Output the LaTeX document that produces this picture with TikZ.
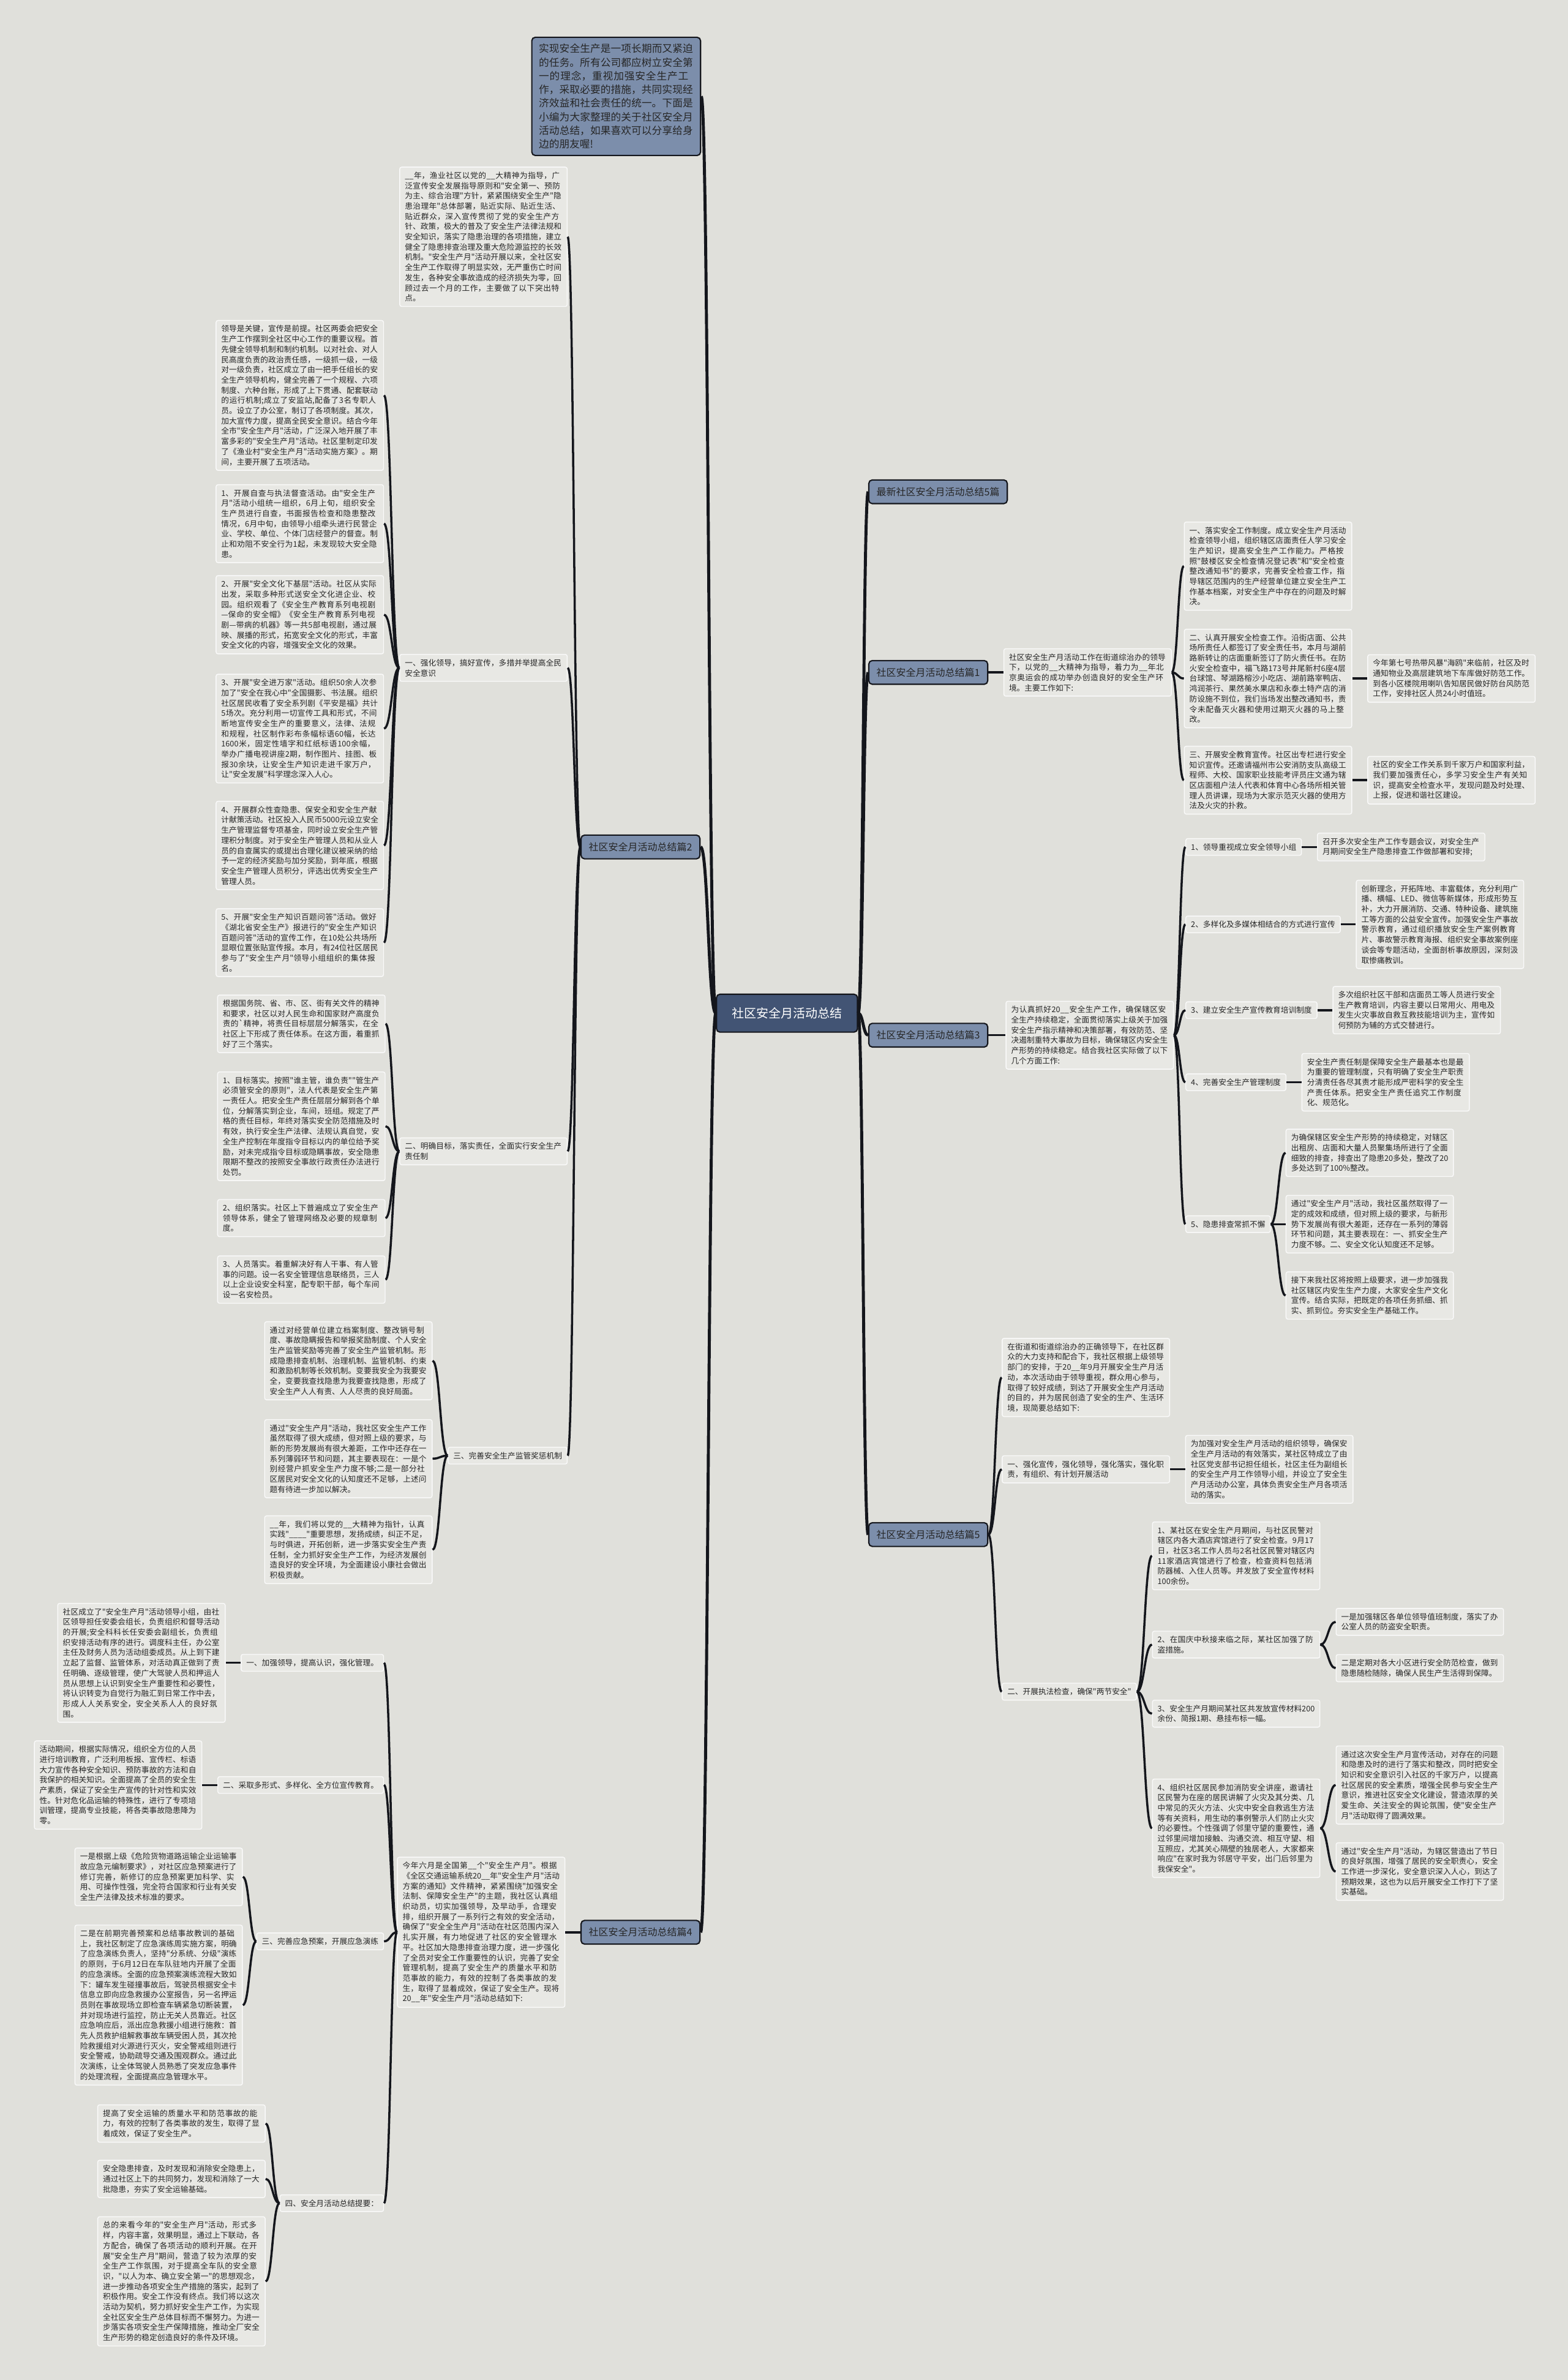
\documentclass[tikz,border=0pt]{standalone}
\usepackage{fontspec}
\newfontfamily\zhfont{Noto Sans CJK SC}
\XeTeXlinebreaklocale "zh"
\XeTeXlinebreakskip=0pt plus 1pt
\usetikzlibrary{calc,positioning}
\definecolor{mapbg}{RGB}{224,224,219}
\definecolor{mapbox}{RGB}{232,232,228}
\definecolor{mapedge}{RGB}{250,250,250}
\definecolor{mapink}{RGB}{38,38,38}
\definecolor{mapslate}{RGB}{124,142,171}
\definecolor{mapdark}{RGB}{66,84,116}
\definecolor{mapline}{RGB}{20,22,28}
\newcommand\mapfont{\zhfont\fontsize{3.61pt}{4.75pt}\selectfont}

\begin{document}
\begin{tikzpicture}[x=0.02478cm,y=-0.02478cm,
    boxbase/.style={rectangle,rounded corners=0.9pt,fill=mapbox,draw=mapedge,line width=0.4pt,
                    inner xsep=2.4pt,inner ysep=2.2pt,align=left,text=mapink,font=\mapfont},
    parabox/.style={boxbase,text width=73pt},
    headbox/.style={boxbase},
    branchbox/.style={rectangle,rounded corners=1.6pt,fill=mapslate,draw=mapline,line width=0.6pt,
                    inner xsep=3.6pt,minimum height=11pt,text=mapink,font=\zhfont\fontsize{4.55pt}{5.5pt}\selectfont},
    introbox/.style={rectangle,rounded corners=1.6pt,fill=mapslate,draw=mapline,line width=0.6pt,
                    inner xsep=3.3pt,inner ysep=3pt,text width=71.8pt,align=left,text=mapink,
                    font=\zhfont\fontsize{4.75pt}{6.35pt}\selectfont},
    rootbox/.style={rectangle,rounded corners=1.6pt,fill=mapdark,draw=mapline,line width=0.6pt,
                    minimum width=65.5pt,minimum height=17.6pt,text=white,
                    font=\zhfont\fontsize{5.7pt}{6.8pt}\selectfont},
    maplink/.style={draw=mapline,line width=1pt,
                    to path={let \p1=(\tikztostart),\p2=(\tikztotarget) in
                             .. controls ({0.5*\x1+0.5*\x2},\y1) and ({0.5*\x1+0.5*\x2},\y2) .. (\tikztotarget)}},
    rootlink/.style={maplink,line width=1.4pt}]

    \useasboundingbox (0,0) rectangle (1033,1568);
    \fill[mapbg] (0,0) rectangle (1033,1568);

    \node[rootbox] (root) at (518.5,667.5) {社区安全月活动总结};

    \node[introbox,anchor=east] (intro) at (462,63.5) {实现安全生产是一项长期而又紧迫的任务。所有公司都应树立安全第一的理念，重视加强安全生产工作，采取必要的措施，共同实现经济效益和社会责任的统一。下面是小编为大家整理的关于社区安全月活动总结，如果喜欢可以分享给身边的朋友喔!};

    \node[branchbox,anchor=west] (b0) at (572,324)  {最新社区安全月活动总结5篇};
    \node[branchbox,anchor=west] (b1) at (572,443)  {社区安全月活动总结篇1};
    \node[branchbox] (b2) at (422,558)              {社区安全月活动总结篇2};
    \node[branchbox,anchor=west] (b3) at (572,682)  {社区安全月活动总结篇3};
    \node[branchbox] (b4) at (422,1273)             {社区安全月活动总结篇4};
    \node[branchbox,anchor=west] (b5) at (572,1011) {社区安全月活动总结篇5};

    % 篇2
    \node[parabox,anchor=east] (p2a) at (374,156) {\_\_年，渔业社区以党的\_\_大精神为指导，广泛宣传安全发展指导原则和"安全第一、预防为主、综合治理"方针，紧紧围绕安全生产"隐患治理年"总体部署，贴近实际、贴近生活、贴近群众，深入宣传贯彻了党的安全生产方针、政策，极大的普及了安全生产法律法规和安全知识，落实了隐患治理的各项措施，建立健全了隐患排查治理及重大危险源监控的长效机制。"安全生产月"活动开展以来，全社区安全生产工作取得了明显实效，无严重伤亡时间发生，各种安全事故造成的经济损失为零，回顾过去一个月的工作，主要做了以下突出特点。};
    \node[parabox,anchor=east] (p2b) at (374,440)   {一、强化领导，搞好宣传，多措并举提高全民安全意识};
    \node[parabox,anchor=east] (p2c) at (374,758.5) {二、明确目标，落实责任，全面实行安全生产责任制};
    \node[headbox,anchor=east] (p2d) at (374,959)   {三、完善安全生产监管奖惩机制};

    \node[parabox,anchor=east] (p2b1) at (253,260.5) {领导是关键，宣传是前提。社区两委会把安全生产工作摆到全社区中心工作的重要议程。首先健全领导机制和制约机制。以对社会、对人民高度负责的政治责任感，一级抓一级，一级对一级负责，社区成立了由一把手任组长的安全生产领导机构，健全完善了一个规程、六项制度、六种台账，形成了上下贯通、配套联动的运行机制;成立了安监站,配备了3名专职人员。设立了办公室，制订了各项制度。其次，加大宣传力度，提高全民安全意识。结合今年全市"安全生产月"活动，广泛深入地开展了丰富多彩的"安全生产月"活动。社区里制定印发了《渔业村"安全生产月"活动实施方案》。期间，主要开展了五项活动。};
    \node[parabox,anchor=east] (p2b2) at (253,345) {1、开展自查与执法督查活动。由"安全生产月"活动小组统一组织，6月上旬，组织安全生产员进行自查，书面报告检查和隐患整改情况，6月中旬，由领导小组牵头进行民营企业、学校、单位、个体门店经营户的督查。制止和劝阻不安全行为1起，未发现较大安全隐患。};
    \node[parabox,anchor=east] (p2b3) at (253,405) {2、开展"安全文化下基层"活动。社区从实际出发，采取多种形式送安全文化进企业、校园。组织观看了《安全生产教育系列电视剧—保命的安全帽》《安全生产教育系列电视剧—带病的机器》等一共5部电视剧，通过展映、展播的形式，拓宽安全文化的形式，丰富安全文化的内容，增强安全文化的效果。};
    \node[parabox,anchor=east] (p2b4) at (253,480) {3、开展"安全进万家"活动。组织50余人次参加了"安全在我心中"全国摄影、书法展。组织社区居民收看了安全系列剧《平安是福》共计5场次。充分利用一切宣传工具和形式，不间断地宣传安全生产的重要意义，法律、法规和规程，社区制作彩布条幅标语60幅，长达1600米，固定性墙字和红纸标语100余幅，举办广播电视讲座2期，制作图片、挂图、板报30余块，让安全生产知识走进千家万户，让"安全发展"科学理念深入人心。};
    \node[parabox,anchor=east] (p2b5) at (253,557) {4、开展群众性查隐患、保安全和安全生产献计献策活动。社区投入人民币5000元设立安全生产管理监督专项基金，同时设立安全生产管理积分制度。对于安全生产管理人员和从业人员的自查属实的或提出合理化建议被采纳的给予一定的经济奖励与加分奖励，到年底，根据安全生产管理人员积分，评选出优秀安全生产管理人员。};
    \node[parabox,anchor=east] (p2b6) at (253,621) {5、开展"安全生产知识百题问答"活动。做好《湖北省安全生产》报进行的"安全生产知识百题问答"活动的宣传工作，在10处公共场所显眼位置张贴宣传报。本月，有24位社区居民参与了"安全生产月"领导小组组织的集体报名。};

    \node[parabox,anchor=east] (p2c1) at (254,674.5) {根据国务院、省、市、区、街有关文件的精神和要求，社区以对人民生命和国家财产高度负责的\symbol{96}精神，将责任目标层层分解落实，在全社区上下形成了责任体系。在这方面，着重抓好了三个落实。};
    \node[parabox,anchor=east] (p2c2) at (254,742) {1、目标落实。按照"谁主管，谁负责""管生产必须管安全的原则"，法人代表是安全生产第一责任人。把安全生产责任层层分解到各个单位，分解落实到企业，车间，班组。规定了严格的责任目标，年终对落实安全防范措施及时有效，执行安全生产法律、法规认真自觉，安全生产控制在年度指令目标以内的单位给予奖励，对未完成指令目标或隐瞒事故，安全隐患限期不整改的按照安全事故行政责任办法进行处罚。};
    \node[parabox,anchor=east] (p2c3) at (254,802.5) {2、组织落实。社区上下普遍成立了安全生产领导体系，健全了管理网络及必要的规章制度。};
    \node[parabox,anchor=east] (p2c4) at (254,843) {3、人员落实。着重解决好有人干事、有人管事的问题。设一名安全管理信息联络员，三人以上企业设安全科室，配专职干部，每个车间设一名安检员。};

    \node[parabox,anchor=east] (p2d1) at (285,896.5) {通过对经营单位建立档案制度、整改销号制度、事故隐瞒报告和举报奖励制度、个人安全生产监管奖励等完善了安全生产监管机制。形成隐患排查机制、治理机制、监管机制、约束和激励机制等长效机制。变要我安全为我要安全，变要我查找隐患为我要查找隐患，形成了安全生产人人有责、人人尽责的良好局面。};
    \node[parabox,anchor=east] (p2d2) at (285,961) {通过"安全生产月"活动，我社区安全生产工作虽然取得了很大成绩，但对照上级的要求，与新的形势发展尚有很大差距，工作中还存在一系列薄弱环节和问题，其主要表现在：一是个别经营户抓安全生产力度不够;二是一部分社区居民对安全文化的认知度还不足够，上述问题有待进一步加以解决。};
    \node[parabox,anchor=east] (p2d3) at (285,1021) {\_\_年，我们将以党的\_\_大精神为指针，认真实践"\_\_\_\_"重要思想，发扬成绩，纠正不足，与时俱进，开拓创新，进一步落实安全生产责任制，全力抓好安全生产工作，为经济发展创造良好的安全环境，为全面建设小康社会做出积极贡献。};

    % 篇4
    \node[parabox,left=7pt of b4] (p4) {今年六月是全国第\_\_个"安全生产月"。根据《全区交通运输系统20\_\_年"安全生产月"活动方案的通知》文件精神，紧紧围绕"加强安全法制、保障安全生产"的主题，我社区认真组织动员，切实加强领导，及早动手，合理安排，组织开展了一系列行之有效的安全活动，确保了"安全全生产月"活动在社区范围内深入扎实开展，有力地促进了社区的安全管理水平。社区加大隐患排查治理力度，进一步强化了全员对安全工作重要性的认识，完善了安全管理机制，提高了安全生产的质量水平和防范事故的能力，有效的控制了各类事故的发生，取得了显着成效，保证了安全生产。现将20\_\_年"安全生产月"活动总结如下:};
    \node[headbox,anchor=east] (p4a) at (253,1095.5) {一、加强领导，提高认识，强化管理。};
    \node[headbox,anchor=east] (p4b) at (253,1176)   {二、采取多形式、多样化、全方位宣传教育。};
    \node[headbox,anchor=east] (p4c) at (253,1279)   {三、完善应急预案，开展应急演练};
    \node[headbox,anchor=east] (p4d) at (253,1451.5) {四、安全月活动总结提要：};

    \node[parabox,left=7pt of p4a] (p4a1) {社区成立了"安全生产月"活动领导小组，由社区领导担任安委会组长，负责组织和督导活动的开展;安全科科长任安委会副组长，负责组织安排活动有序的进行。调度科主任，办公室主任及财务人员为活动组委成员。从上到下建立起了监督、监管体系，对活动真正做到了责任明确、逐级管理，使广大驾驶人员和押运人员从思想上认识到安全生产重要性和必要性，将认识转变为自觉行为融汇到日常工作中去，形成人人关系安全，安全关系人人的良好氛围。};
    \node[parabox,left=7pt of p4b] (p4b1) {活动期间，根据实际情况，组织全方位的人员进行培训教育，广泛利用板报、宣传栏、标语大力宣传各种安全知识、预防事故的方法和自我保护的相关知识。全面提高了全员的安全生产素质，保证了安全生产宣传的针对性和实效性。针对危化品运输的特殊性，进行了专项培训管理，提高专业技能，将各类事故隐患降为零。};
    \node[parabox,anchor=east] (p4c1) at (160,1236.5) {一是根据上级《危险货物道路运输企业运输事故应急元编制要求》，对社区应急预案进行了修订完善，新修订的应急预案更加科学、实用、可操作性强，完全符合国家和行业有关安全生产法律及技术标准的要求。};
    \node[parabox,anchor=east] (p4c2) at (160,1321) {二是在前期完善预案和总结事故教训的基础上，我社区制定了应急演练周实施方案，明确了应急演练负责人，坚持"分系统、分级"演练的原则，于6月12日在车队驻地内开展了全面的应急演练。全面的应急预案演练流程大致如下：罐车发生碰撞事故后，驾驶员根据安全卡信息立即向应急救援办公室报告，另一名押运员则在事故现场立即检查车辆紧急切断装置，并对现场进行监控，防止无关人员靠近。社区应急响应后，派出应急救援小组进行施救：首先人员救护组解救事故车辆受困人员，其次抢险救援组对火源进行灭火，安全警戒组则进行安全警戒，协助疏导交通及围观群众。通过此次演练，让全体驾驶人员熟悉了突发应急事件的处理流程，全面提高应急管理水平。};
    \node[parabox,anchor=east] (p4d1) at (175,1399) {提高了安全运输的质量水平和防范事故的能力，有效的控制了各类事故的发生，取得了显着成效，保证了安全生产。};
    \node[parabox,anchor=east] (p4d2) at (175,1435.5) {安全隐患排查，及时发现和消除安全隐患上，通过社区上下的共同努力，发现和消除了一大批隐患，夯实了安全运输基础。};
    \node[parabox,anchor=east] (p4d3) at (175,1503) {总的来看今年的"安全生产月"活动，形式多样，内容丰富，效果明显，通过上下联动，各方配合，确保了各项活动的顺利开展。在开展"安全生产月"期间，营造了较为浓厚的安全生产工作氛围，对于提高全车队的安全意识，"以人为本、确立安全第一"的思想观念，进一步推动各项安全生产措施的落实，起到了积极作用。安全工作没有终点。我们将以这次活动为契机，努力抓好安全生产工作，为实现全社区安全生产总体目标而不懈努力。为进一步落实各项安全生产保障措施，推动全厂安全生产形势的稳定创造良好的条件及环境。};

    % 篇1
    \node[parabox,right=7pt of b1] (p1) {社区安全生产月活动工作在街道综治办的领导下，以党的\_\_大精神为指导，着力为\_\_年北京奥运会的成功举办创造良好的安全生产环境。主要工作如下:};
    \node[parabox,anchor=west] (p1a) at (780,373) {一、落实安全工作制度。成立安全生产月活动检查领导小组，组织辖区店面责任人学习安全生产知识，提高安全生产工作能力。严格按照"鼓楼区安全检查情况登记表"和"安全检查整改通知书"的要求，完善安全检查工作，指导辖区范围内的生产经营单位建立安全生产工作基本档案，对安全生产中存在的问题及时解决。};
    \node[parabox,anchor=west] (p1b) at (780,447) {二、认真开展安全检查工作。沿街店面、公共场所责任人都签订了安全责任书，本月与湖前路新转让的店面重新签订了防火责任书。在防火安全检查中，福飞路173号井尾新村6座4层台球馆、琴湖路榕沙小吃店、湖前路宰鸭店、鸿润茶行、果然美水果店和永泰土特产店的消防设施不到位，我们当场发出整改通知书，责令未配备灭火器和使用过期灭火器的马上整改。};
    \node[parabox,anchor=west] (p1c) at (780,514) {三、开展安全教育宣传。社区出专栏进行安全知识宣传。还邀请福州市公安消防支队高级工程师、大校、国家职业技能考评员庄文通为辖区店面租户法人代表和体育中心各场所相关管理人员讲课，现场为大家示范灭火器的使用方法及火灾的扑救。};
    \node[parabox,right=7pt of p1b] (p1b1) {今年第七号热带风暴"海鸥"来临前，社区及时通知物业及高层建筑地下车库做好防范工作。到各小区楼院用喇叭告知居民做好防台风防范工作，安排社区人员24小时值班。};
    \node[parabox,right=7pt of p1c] (p1c1) {社区的安全工作关系到千家万户和国家利益，我们要加强责任心，多学习安全生产有关知识，提高安全检查水平，发现问题及时处理、上报，促进和谐社区建设。};

    % 篇3
    \node[parabox,right=8pt of b3] (p3) {为认真抓好20\_\_安全生产工作，确保辖区安全生产持续稳定，全面贯彻落实上级关于加强安全生产指示精神和决策部署，有效防范、坚决遏制重特大事故为目标，确保辖区内安全生产形势的持续稳定。结合我社区实际做了以下几个方面工作:};
    \node[headbox,anchor=west] (p3a) at (781,558)   {1、领导重视成立安全领导小组};
    \node[headbox,anchor=west] (p3b) at (781,609)   {2、多样化及多媒体相结合的方式进行宣传};
    \node[headbox,anchor=west] (p3c) at (781,665.5) {3、建立安全生产宣传教育培训制度};
    \node[headbox,anchor=west] (p3d) at (781,713)   {4、完善安全生产管理制度};
    \node[headbox,anchor=west] (p3e) at (781,806.5) {5、隐患排查常抓不懈};
    \node[parabox,right=7pt of p3a] (p3a1) {召开多次安全生产工作专题会议，对安全生产月期间安全生产隐患排查工作做部署和安排;};
    \node[parabox,right=7pt of p3b] (p3b1) {创新理念，开拓阵地、丰富载体，充分利用广播、横幅、LED、微信等新媒体，形成形势互补，大力开展消防、交通、特种设备、建筑施工等方面的公益安全宣传。加强安全生产事故警示教育，通过组织播放安全生产案例教育片、事故警示教育海报、组织安全事故案例座谈会等专题活动，全面剖析事故原因，深刻汲取惨痛教训。};
    \node[parabox,right=7pt of p3c] (p3c1) {多次组织社区干部和店面员工等人员进行安全生产教育培训，内容主要以日常用火、用电及发生火灾事故自救互救技能培训为主，宣传如何预防为辅的方式交替进行。};
    \node[parabox,right=7pt of p3d] (p3d1) {安全生产责任制是保障安全生产最基本也是最为重要的管理制度，只有明确了安全生产职责分清责任各尽其责才能形成严密科学的安全生产责任体系。把安全生产责任追究工作制度化、规范化。};
    \node[parabox,anchor=west] (p3e1) at (847,759.5) {为确保辖区安全生产形势的持续稳定，对辖区出租房、店面和大量人员聚集场所进行了全面细致的排查，排查出了隐患20多处，整改了20多处达到了100\%整改。};
    \node[parabox,anchor=west] (p3e2) at (847,806.5) {通过"安全生产月"活动，我社区虽然取得了一定的成效和成绩，但对照上级的要求，与新形势下发展尚有很大差距，还存在一系列的薄弱环节和问题，其主要表现在：一、抓安全生产力度不够。二、安全文化认知度还不足够。};
    \node[parabox,anchor=west] (p3e3) at (847,853.5) {接下来我社区将按照上级要求，进一步加强我社区辖区内安生生产力度，大家安全生产文化宣传。结合实际，把既定的各项任务抓细、抓实、抓到位。夯实安全生产基础工作。};

    % 篇5
    \node[parabox,anchor=west] (p5) at (660,907.5) {在街道和街道综治办的正确领导下，在社区群众的大力支持和配合下，我社区根据上级领导部门的安排，于20\_\_年9月开展安全生产月活动，本次活动由于领导重视，群众用心参与，取得了较好成绩，到达了开展安全生产月活动的目的，并为居民创造了安全的生产、生活环境，现简要总结如下:};
    \node[parabox,anchor=west] (p5a) at (660,968)    {一、强化宣传，强化领导，强化落实，强化职责，有组织、有计划开展活动};
    \node[headbox,anchor=west] (p5b) at (660,1114.5) {二、开展执法检查，确保"两节安全"};
    \node[parabox,right=7pt of p5a] (p5a1) {为加强对安全生产月活动的组织领导，确保安全生产月活动的有效落实，某社区特成立了由社区党支部书记担任组长，社区主任为副组长的安全生产月工作领导小组，并设立了安全生产月活动办公室，具体负责安全生产月各项活动的落实。};
    \node[parabox,anchor=west] (p5b1) at (759,1025)   {1、某社区在安全生产月期间，与社区民警对辖区内各大酒店宾馆进行了安全检查。9月17日，社区3名工作人员与2名社区民警对辖区内11家酒店宾馆进行了检查，检查资料包括消防器械、入住人员等。并发放了安全宣传材料100余份。};
    \node[parabox,anchor=west] (p5b2) at (759,1083.5) {2、在国庆中秋接来临之际，某社区加强了防盗措施。};
    \node[parabox,anchor=west] (p5b3) at (759,1129)   {3、安全生产月期间某社区共发放宣传材料200余份、简报1期、悬挂布标一幅。};
    \node[parabox,anchor=west] (p5b4) at (759,1204.5) {4、组织社区居民参加消防安全讲座，邀请社区民警为在座的居民讲解了火灾及其分类、几中常见的灭火方法、火灾中安全自救逃生方法等有关资料，用生动的事例警示人们防止火灾的必要性。个性强调了邻里守望的重要性，通过邻里间增加接触、沟通交流、相互守望、相互照应，尤其关心隔壁的独居老人，大家都来响应"在家时我为邻居守平安，出门后邻里为我保安全"。};
    \node[parabox,anchor=west] (p5b21) at (880,1068.5) {一是加强辖区各单位领导值班制度，落实了办公室人员的防盗安全职责。};
    \node[parabox,anchor=west] (p5b22) at (880,1099)   {二是定期对各大小区进行安全防范检查，做到隐患随检随除，确保人民生产生活得到保障。};
    \node[parabox,anchor=west] (p5b41) at (880,1176)   {通过这次安全生产月宣传活动，对存在的问题和隐患及时的进行了落实和整改，同时把安全知识和安全意识引入社区的千家万户，以提高社区居民的安全素质，增强全民参与安全生产意识，推进社区安全文化建设，营造浓厚的关爱生命、关注安全的舆论氛围，使"安全生产月"活动取得了圆满效果。};
    \node[parabox,anchor=west] (p5b42) at (880,1233)   {通过"安全生产月"活动，为辖区营造出了节日的良好氛围，增强了居民的安全职责心，安全工作进一步深化，安全意识深入人心，到达了预期效果，这也为以后开展安全工作打下了坚实基础。};

    \draw[rootlink] (root.west) to (intro.east);
    \draw[rootlink] (root.east) to (b0.west);
    \draw[rootlink] (root.east) to (b1.west);
    \draw[rootlink] (root.west) to (b2.east);
    \draw[rootlink] (root.east) to (b3.west);
    \draw[rootlink] (root.west) to (b4.east);
    \draw[rootlink] (root.east) to (b5.west);

    \draw[maplink] (b2.west) to (p2a.east);
    \draw[maplink] (b2.west) to (p2b.east);
    \draw[maplink] (b2.west) to (p2c.east);
    \draw[maplink] (b2.west) to (p2d.east);
    \foreach \k in {1,...,6} \draw[maplink] (p2b.west) to (p2b\k.east);
    \foreach \k in {1,...,4} \draw[maplink] (p2c.west) to (p2c\k.east);
    \foreach \k in {1,2,3} \draw[maplink] (p2d.west) to (p2d\k.east);

    \draw[maplink] (b4.west) to (p4.east);
    \foreach \k in {a,b,c,d} \draw[maplink] (p4.west) to (p4\k.east);
    \draw[maplink] (p4a.west) to (p4a1.east);
    \draw[maplink] (p4b.west) to (p4b1.east);
    \draw[maplink] (p4c.west) to (p4c1.east);
    \draw[maplink] (p4c.west) to (p4c2.east);
    \foreach \k in {1,2,3} \draw[maplink] (p4d.west) to (p4d\k.east);

    \draw[maplink] (b1.east) to (p1.west);
    \foreach \k in {a,b,c} \draw[maplink] (p1.east) to (p1\k.west);
    \draw[maplink] (p1b.east) to (p1b1.west);
    \draw[maplink] (p1c.east) to (p1c1.west);

    \draw[maplink] (b3.east) to (p3.west);
    \foreach \k in {a,b,c,d,e} \draw[maplink] (p3.east) to (p3\k.west);
    \foreach \k in {a,b,c,d} \draw[maplink] (p3\k.east) to (p3\k1.west);
    \foreach \k in {1,2,3} \draw[maplink] (p3e.east) to (p3e\k.west);

    \draw[maplink] (b5.east) to (p5.west);
    \draw[maplink] (b5.east) to (p5a.west);
    \draw[maplink] (b5.east) to (p5b.west);
    \draw[maplink] (p5a.east) to (p5a1.west);
    \foreach \k in {1,...,4} \draw[maplink] (p5b.east) to (p5b\k.west);
    \draw[maplink] (p5b2.east) to (p5b21.west);
    \draw[maplink] (p5b2.east) to (p5b22.west);
    \draw[maplink] (p5b4.east) to (p5b41.west);
    \draw[maplink] (p5b4.east) to (p5b42.west);

\end{tikzpicture}
\end{document}
